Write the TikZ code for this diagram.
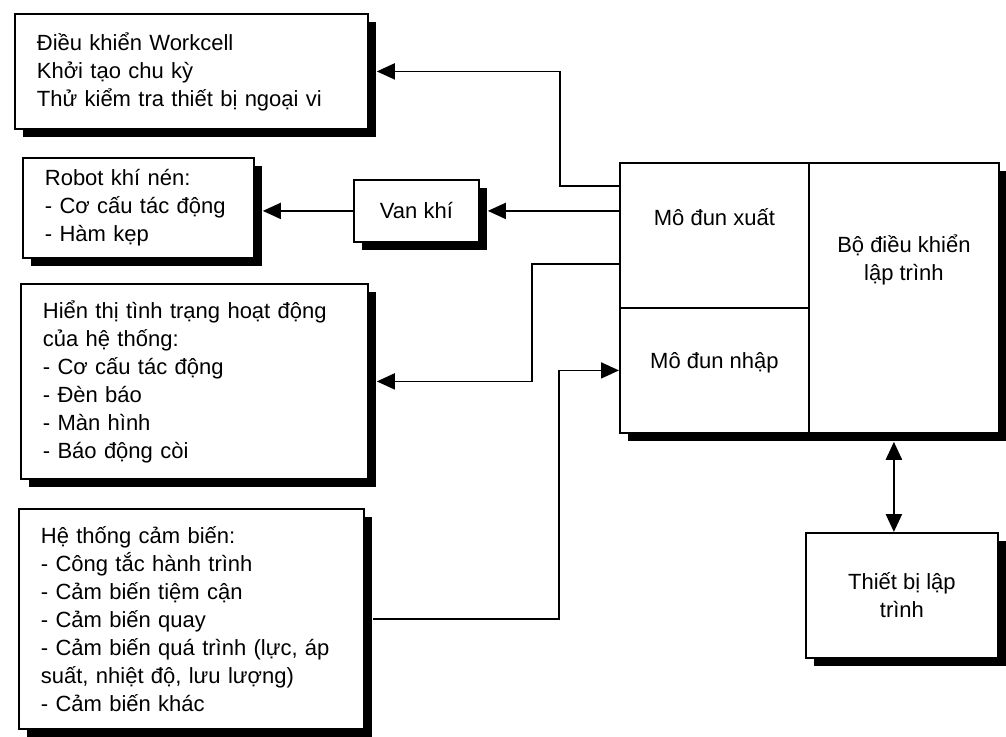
\documentclass[tikz,border=0pt]{standalone}
\usepackage{fontspec}
\setmainfont{Liberation Sans}
\usetikzlibrary{positioning,arrows.meta,shadows}

\begin{document}
\begin{tikzpicture}[
    x=0.5pt, y=-0.5pt,
    khoi/.style={rectangle, draw, fill=white, line width=0.9pt, align=left, inner xsep=11pt, anchor=north west,
        font=\fontsize{11}{14}\selectfont,
        drop shadow={shadow xshift=4pt, shadow yshift=-4pt, fill=black, opacity=1}},
    phan/.style={rectangle, draw, fill=white, line width=0.9pt, anchor=north west, inner sep=0pt,
        drop shadow={shadow xshift=4pt, shadow yshift=-4pt, fill=black, opacity=1}},
    nhan/.style={font=\fontsize{11}{14}\selectfont, align=center},
    muiten/.style={-{Triangle[length=9pt,width=8pt]}, line width=0.9pt},
    haimui/.style={{Triangle[length=9pt,width=8pt]}-{Triangle[length=9pt,width=8pt]}, line width=1.2pt}
]
    \useasboundingbox (0,0) rectangle (1006,736);

    % left column
    \node (ctrl) [khoi, minimum width=176.5pt, minimum height=57.5pt, text width=154.5pt] at (14,13)
        {Điều khiển Workcell\\Khởi tạo chu kỳ\\Thử kiểm tra thiết bị ngoại vi};
    \node (robot) [khoi, minimum width=115.5pt, minimum height=50pt, text width=93.5pt] at (22,157)
        {Robot khí nén:\\- Cơ cấu tác động\\- Hàm kẹp};
    \node (van) [khoi, align=center, minimum width=62.5pt, minimum height=31pt] at (353,179) {Van khí};
    \node (hienthi) [khoi, minimum width=173.5pt, minimum height=97.5pt, text width=151.5pt] at (20,283)
        {Hiển thị tình trạng hoạt động\\của hệ thống:\\- Cơ cấu tác động\\- Đèn báo\\- Màn hình\\- Báo động còi};
    \node (cambien) [khoi, minimum width=172.5pt, minimum height=110pt, text width=150.5pt] at (18,508)
        {Hệ thống cảm biến:\\- Công tắc hành trình\\- Cảm biến tiệm cận\\- Cảm biến quay\\- Cảm biến quá trình (lực, áp\\suất, nhiệt độ, lưu lượng)\\- Cảm biến khác};

    % controller
    \node (xuat) [phan, minimum width=94.5pt, minimum height=72.5pt,
        label={[name=xuat-t, nhan, anchor=center, yshift=-27.5pt]north:Mô đun xuất}] at (619,162) {};
    \node (nhap) [phan, minimum width=94.5pt, minimum height=62.5pt,
        label={[name=nhap-t, nhan, anchor=center, yshift=-28pt]north:Mô đun nhập}] at (619,307) {};
    \node (cpu) [phan, minimum width=95pt, minimum height=135pt,
        label={[name=cpu-t, nhan, anchor=center, yshift=-49pt]north:Bộ điều khiển\\lập trình}] at (808,162) {};
    \node (laptrinh) [khoi, align=center, minimum width=96pt, minimum height=62.5pt] at (805,532)
        {Thiết bị lập\\trình};

    \draw [muiten] ([yshift=24.75pt]xuat.west) -- ++(-59,0) |- ([xshift=4pt]ctrl.east);
    \draw [muiten] (xuat.west |- van.east) -- ([xshift=4pt]van.east);
    \draw [muiten] (van.west) -- ([xshift=4pt]robot.east |- van.west);
    \draw [muiten] ([yshift=-14.25pt]xuat.west) -- ++(-87,0) |- ([xshift=4pt]hienthi.east);
    \draw [muiten] ([xshift=4pt]cambien.east) -- ++(186,0) |- (nhap.west);
    \draw [haimui] ([xshift=-4pt,yshift=-4pt]cpu.south -| laptrinh.north) -- ([xshift=-4pt]laptrinh.north);
\end{tikzpicture}
\end{document}
